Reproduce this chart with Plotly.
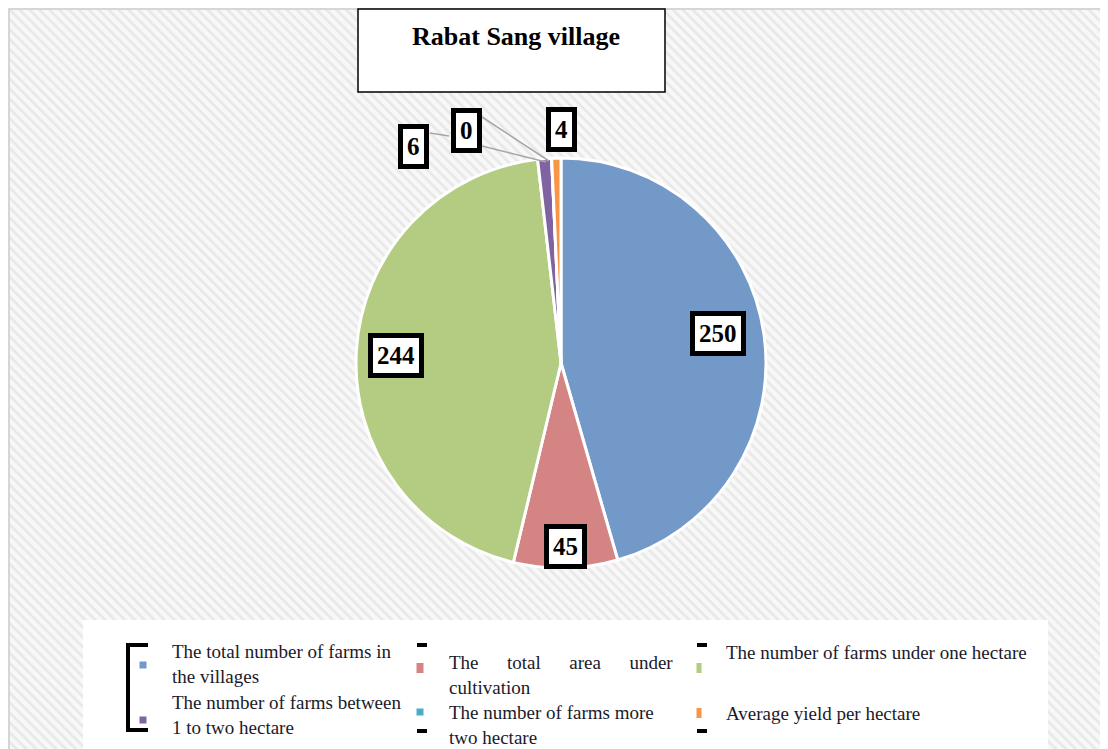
import plotly.graph_objects as go

W, H = 1108, 749
OFF = 8  # page body margin; reference pixel positions are shifted by this

labels = [
    "The total number of farms in the villages",
    "The total area under cultivation",
    "The number of farms under one hectare",
    "The number of farms between 1 to two hectare",
    "The number of farms more two hectare",
    "Average yield per hectare",
]
legend_text = [
    "The total number of farms in<br>the villages",
    "The      total      area      under<br>cultivation",
    "The number of farms under one hectare",
    "The number of farms between<br>1 to two hectare",
    "The number of farms more<br>two hectare",
    "Average yield per hectare",
]
values = [250, 45, 244, 6, 0, 4]
value_text = ["250", "45", "244", "6", "0", "4"]
colors = ["#7399C9", "#D48583", "#B3CC82", "#8064A2", "#4BACC6", "#F79646"]
title_text = "Rabat Sang village"

# reference pixel positions (screen) of data-label callouts
label_pos = [(718, 333), (565, 546), (396, 355), (413, 146), (466, 130), (561, 129)]
# legend layout (screen px): marker centre, marker size, text left x, text block centre y
legend_marker = [(143, 665, 7, 7), (420, 668, 7, 10), (699, 668, 5, 10),
                 (143, 720, 7, 7), (420, 712, 7, 7), (699, 713, 5, 10)]
legend_text_pos = [(170, 664), (447, 675), (724, 652), (170, 715), (447, 725), (724, 713)]


def P(x, y):
    return x - OFF, y - OFF


fig = go.Figure()

# hatched background
fig.add_trace(go.Scatter(
    x=[0, W, W, 0, 0], y=[0, 0, H, H, 0], mode="lines", fill="toself",
    line=dict(width=0), fillcolor="rgba(0,0,0,0)",
    fillpattern=dict(shape="\\", fgcolor="#d8d8d8", bgcolor="#f8f8f8", size=7, solidity=0.4),
    hoverinfo="skip", showlegend=False,
))

cx, cy = P(561, 363)
r = 205
fig.add_trace(go.Pie(
    labels=labels, values=values, sort=False, direction="clockwise", rotation=0,
    marker=dict(colors=colors, line=dict(color="white", width=3)),
    textinfo="none", hoverinfo="label+value",
    domain=dict(x=[(cx - r) / W, (cx + r) / W], y=[1 - (cy + r) / H, 1 - (cy - r) / H]),
    showlegend=False,
))

shapes = []
# outer frame
shapes.append(dict(type="rect", x0=1, y0=1, x1=W + 5, y1=H + 5, line=dict(color="#d6d6d6", width=2),
                   fillcolor="rgba(0,0,0,0)", layer="above"))
# title box
x0, y0 = P(358, 8)
x1, y1 = P(665, 92)
shapes.append(dict(type="rect", x0=x0, y0=y0 + 1, x1=x1, y1=y1, line=dict(color="black", width=1.5),
                   fillcolor="white", layer="above"))
# legend box
x0, y0 = P(83, 620)
shapes.append(dict(type="rect", x0=x0, y0=y0, x1=1048 - OFF, y1=H + 5, line=dict(width=0),
                   fillcolor="white", layer="above"))
# legend bracket decorations
b = [P(148, 645), P(128, 645), P(128, 730), P(148, 730)]
shapes.append(dict(type="path", path="M {} {} L {} {} L {} {} L {} {}".format(*[v for p in b for v in p]),
                   line=dict(color="black", width=4), layer="above"))
for xb in (417, 697):
    for yb in (645, 731):
        xa, ya = P(xb, yb)
        shapes.append(dict(type="line", x0=xa, x1=xa + 10, y0=ya, y1=ya,
                           line=dict(color="black", width=4), layer="above"))
# legend markers
for (mx, my, mw, mh), c in zip(legend_marker, colors):
    xa, ya = P(mx, my)
    shapes.append(dict(type="rect", x0=xa - mw / 2, x1=xa + mw / 2, y0=ya - mh / 2, y1=ya + mh / 2,
                       line=dict(width=0), fillcolor=c, layer="above"))
# leader lines for small slices
for (a, bb, c, d) in [(430, 133, 449, 136), (482, 117, 549, 161), (482, 146, 546, 162)]:
    xa, ya = P(a, bb)
    xc, yc = P(c, d)
    shapes.append(dict(type="line", x0=xa, y0=ya, x1=xc, y1=yc,
                       line=dict(color="#a6a6a6", width=1.5), layer="above"))

tx, ty = P(516, 36)
annotations = [dict(x=tx, y=ty, text=f"<b>{title_text}</b>", showarrow=False,
                    font=dict(family="Liberation Serif", size=26, color="black"))]
for (px, py), t in zip(label_pos, value_text):
    ax, ay = P(px, py)
    annotations.append(dict(
        x=ax, y=ay, text=f"<b>{t}</b>", showarrow=False,
        font=dict(family="Liberation Serif", size=25, color="black"),
        bgcolor="white", bordercolor="black", borderwidth=5, borderpad=4,
    ))
for (px, py), t in zip(legend_text_pos, legend_text):
    ax, ay = P(px, py)
    annotations.append(dict(
        x=ax, y=ay, text=t, showarrow=False, xanchor="left", yanchor="middle", align="left",
        font=dict(family="Liberation Serif", size=19, color="#1a1a2a"),
    ))

fig.update_layout(
    width=W, height=H, margin=dict(l=0, r=0, t=0, b=0),
    paper_bgcolor="white", plot_bgcolor="white", showlegend=False,
    xaxis=dict(range=[0, W], visible=False, fixedrange=True),
    yaxis=dict(range=[H, 0], visible=False, fixedrange=True),
    shapes=shapes, annotations=annotations,
)

fig.write_html("out.html")
